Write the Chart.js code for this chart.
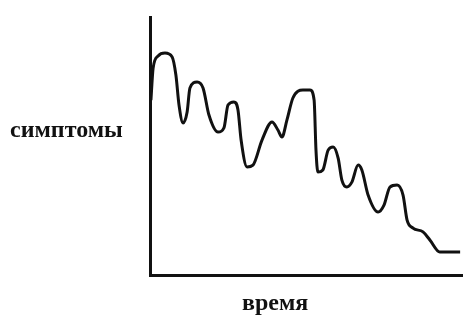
<!DOCTYPE html>
<html>
<head>
<meta charset="utf-8">
<script src="https://cdn.jsdelivr.net/npm/chart.js@4/dist/chart.umd.min.js"></script>
<style>
  html, body { margin: 0; padding: 0; background: #fff; }
  #wrap { position: relative; width: 464px; height: 315px; }
  .lbl { position: absolute; font-family: "Liberation Serif", serif; font-weight: bold;
         font-size: 24px; line-height: 24px; color: #111; white-space: nowrap; }
</style>
</head>
<body>
<div id="wrap">
  <canvas id="symChart" width="464" height="315"></canvas>
  <div class="lbl" style="left:10px; top:117px;">симптомы</div>
  <div class="lbl" style="left:242px; top:290px;">время</div>
</div>
<script>
// время (0-100) и симптомы (0-100)
const time = [0.3, 1.0, 2.6, 4.8, 7.1, 8.3, 9.3, 10.6, 11.9, 12.8, 15.1, 17.0, 18.9, 21.8, 23.7, 25.0,
  26.9, 28.2, 29.2, 31.1, 33.0, 35.9, 39.1, 41.0, 42.3, 43.9, 45.8, 49.0, 51.3, 52.6, 53.2, 53.8,
  55.4, 57.1, 58.7, 60.3, 61.5, 63.1, 64.7, 66.7, 67.9, 69.9, 73.1, 75.0, 76.9, 79.2, 81.1, 82.4,
  84.3, 87.5, 89.7, 92.9, 99.4];
const symptoms = [67.8, 80.2, 84.9, 86.0, 84.5, 77.5, 65.9, 58.9, 63.2, 72.5, 74.8, 72.5, 62.0, 55.4, 57.0, 65.9,
  67.1, 64.0, 52.3, 41.9, 42.6, 52.3, 59.3, 56.2, 53.5, 60.1, 68.6, 71.7, 71.7, 67.8, 48.4, 39.9,
  40.7, 48.4, 49.6, 45.3, 36.8, 34.1, 36.0, 42.6, 40.7, 31.0, 24.4, 27.1, 34.1, 34.9, 31.0, 21.3,
  18.2, 16.7, 13.6, 8.9, 8.9];

const points = time.map((t, i) => ({ x: t, y: symptoms[i] }));

const ctx = document.getElementById('symChart').getContext('2d');
new Chart(ctx, {
  type: 'line',
  data: {
    datasets: [{
      data: points,
      borderColor: '#111',
      borderWidth: 3,
      pointRadius: 0,
      fill: false,
      cubicInterpolationMode: 'monotone',
      clip: false
    }]
  },
  options: {
    responsive: false,
    animation: false,
    layout: { padding: { left: 150, top: 17, right: 2, bottom: 40 } },
    plugins: { legend: { display: false }, tooltip: { enabled: false } },
    scales: {
      x: {
        type: 'linear', min: 0, max: 100,
        grid: { display: false },
        ticks: { display: false },
        border: { display: true, color: '#111', width: 3 },
        afterFit: (s) => { s.height = 0; }
      },
      y: {
        min: 0, max: 100,
        grid: { display: false },
        ticks: { display: false },
        border: { display: true, color: '#111', width: 3 },
        afterFit: (s) => { s.width = 0; }
      }
    }
  }
});
</script>
</body>
</html>
